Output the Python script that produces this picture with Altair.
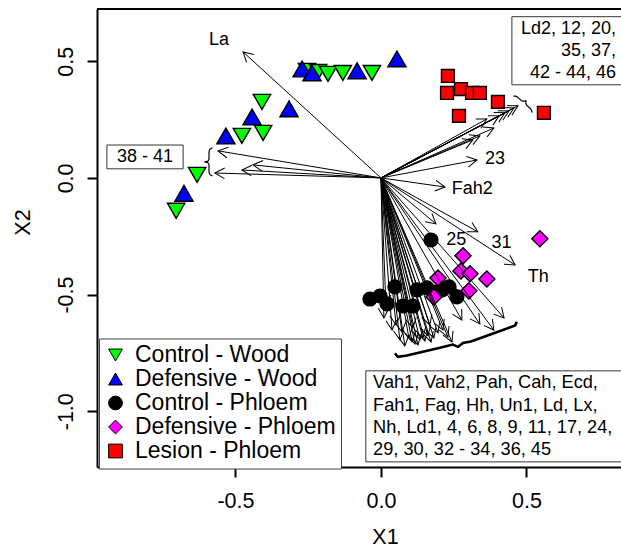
import math
import altair as alt
import pandas as pd

# ---------------- data ----------------
groups = ["Control - Wood", "Defensive - Wood", "Control - Phloem",
          "Defensive - Phloem", "Lesion - Phloem"]
shapes = ["triangle-down", "triangle-up", "circle", "diamond", "square"]
colors = ["#00FF00", "#0000FF", "#000000", "#FF00FF", "#FF0000"]
sizes = [300, 330, 190, 260, 165]

cw_x = [-0.254, -0.216, -0.182, -0.131, -0.031, -0.409, -0.405, -0.478, -0.632, -0.704]
cw_y = [0.459, 0.454, 0.446, 0.450, 0.450, 0.326, 0.193, 0.180, 0.013, -0.141]
dw_x = [-0.271, -0.237, -0.082, 0.055, -0.316, -0.443, -0.533, -0.677]
dw_y = [0.467, 0.450, 0.459, 0.510, 0.296, 0.261, 0.180, -0.066]
cp_x = [0.172, -0.038, -0.003, 0.021, 0.048, 0.076, 0.110, 0.124, 0.158, 0.189, 0.210, 0.234, 0.261]
cp_y = [-0.266, -0.519, -0.506, -0.540, -0.467, -0.549, -0.549, -0.480, -0.471, -0.489, -0.480, -0.467, -0.510]
dp_x = [0.546, 0.282, 0.275, 0.306, 0.364, 0.196, 0.302, 0.182]
dp_y = [-0.261, -0.334, -0.399, -0.411, -0.433, -0.429, -0.484, -0.510]
lp_x = [0.230, 0.227, 0.275, 0.313, 0.340, 0.402, 0.268, 0.560]
lp_y = [0.437, 0.364, 0.381, 0.364, 0.364, 0.326, 0.266, 0.279]

# loading vectors (arrows)
arrow_names = ["La", "23", "Fah2", "25", "31", "Th",
               "Ld2", "12", "20", "35", "37", "42", "43", "44", "46",
               "38", "39", "40", "41",
               "Vah1", "Vah2", "Pah", "Cah", "Ecd", "Fah1", "Fag", "Hh", "Un1",
               "Ld", "Lx", "Nh", "Ld1", "4", "6", "8", "9", "11", "17", "24",
               "29", "30", "32", "33", "34", "36", "45"]
arrow_x = [-0.474, 0.330, 0.220, 0.189, 0.333, 0.461,
           0.471, 0.457, 0.440, 0.426, 0.406, 0.364, 0.388, 0.340, 0.316,
           -0.560, -0.440, -0.478, -0.571,
           0.010, 0.038, 0.065, 0.082, 0.096, 0.107, 0.117, 0.127, 0.134,
           0.144, 0.151, 0.162, 0.172, 0.182, 0.196, 0.213, 0.230, 0.244, 0.052,
           0.072, 0.110, 0.168, 0.278, 0.340, 0.388, 0.423, 0.017]
arrow_y = [0.540, 0.077, -0.039, -0.197, -0.231, -0.373,
           0.309, 0.300, 0.287, 0.279, 0.266, 0.253, 0.214, 0.180, 0.163,
           0.116, 0.056, 0.034, 0.021,
           -0.600, -0.652, -0.694, -0.720, -0.686, -0.703, -0.712, -0.716, -0.694,
           -0.686, -0.699, -0.677, -0.703, -0.686, -0.664, -0.652, -0.682, -0.703, -0.630,
           -0.660, -0.643, -0.630, -0.609, -0.626, -0.652, -0.600, -0.544]

# single arrow labels
lab_text = ["La", "23", "Fah2", "25", "31", "Th"]
lab_x = [-0.557, 0.392, 0.314, 0.259, 0.414, 0.541]
lab_y = [0.592, 0.081, -0.047, -0.266, -0.279, -0.424]

# braces grouping arrows
brace_left_x = [-0.579, -0.588, -0.591, -0.591, -0.596, -0.607, -0.596, -0.591, -0.591, -0.588, -0.579]
brace_left_y = [0.129, 0.122, 0.111, 0.081, 0.071, 0.069, 0.066, 0.056, 0.026, 0.015, 0.009]
brace_tr_x = [0.455, 0.462, 0.471, 0.487, 0.498, 0.498, 0.512, 0.518, 0.519]
brace_tr_y = [0.351, 0.351, 0.345, 0.329, 0.330, 0.318, 0.299, 0.288, 0.280]
brace_bot_x = [0.048, 0.058, 0.089, 0.192, 0.247, 0.265, 0.282, 0.309, 0.419, 0.461, 0.467]
brace_bot_y = [-0.752, -0.767, -0.761, -0.731, -0.714, -0.724, -0.707, -0.701, -0.652, -0.632, -0.617]

# group label boxes
box_x1 = [-0.942, 0.450, -0.052]
box_x2 = [-0.680, 0.900, 0.900]
box_y1 = [0.141, 0.691, -0.827]
box_y2 = [0.039, 0.399, -1.217]

left_box_text = ["38 - 41"]
left_box_x = [-0.811]
left_box_y = [0.090]
tr_box_text = ["Ld2, 12, 20,", "35, 37,", "42 - 44, 46"]
tr_box_x = [0.808, 0.808, 0.808]
tr_box_y = [0.639, 0.544, 0.450]
bot_box_text = ["Vah1, Vah2, Pah, Cah, Ecd,", "Fah1, Fag, Hh, Un1, Ld, Lx,",
                "Nh, Ld1, 4, 6, 8, 9, 11, 17, 24,", "29, 30, 32 - 34, 36, 45"]
bot_box_x = [-0.027, -0.027, -0.027, -0.027]
bot_box_y = [-0.879, -0.977, -1.071, -1.166]

# ---------------- layout ----------------
W, H = 524, 458
XDOM = [-0.976, 0.825]
YDOM = [-1.239, 0.724]
FONT = "Liberation Sans"

xs = alt.Scale(domain=XDOM, nice=False, zero=False)
ys = alt.Scale(domain=YDOM, nice=False, zero=False)

lab_expr = "datum.value < 0 ? '-' + format(-datum.value, '.1f') : format(datum.value, '.1f')"
xaxis = alt.Axis(values=[-0.5, 0, 0.5], labelExpr=lab_expr, title="X1",
                 titleX=288, titleY=70, titleAlign="center", titleBaseline="middle",
                 grid=False, tickSize=10, tickWidth=2, tickColor="black",
                 domainColor="black", domainWidth=2, labelPadding=13,
                 labelFontSize=21.5, labelFont=FONT, labelColor="black",
                 titleFont=FONT, titleFontSize=21.5, titleFontWeight="normal",
                 titleColor="black")
yaxis = alt.Axis(values=[-1.0, -0.5, 0, 0.5], labelExpr=lab_expr, title="X2",
                 titleX=-74, titleY=213, titleAngle=270, titleAlign="center",
                 titleBaseline="middle",
                 grid=False, tickSize=10, tickWidth=2, tickColor="black",
                 domainColor="black", domainWidth=2, labelPadding=15,
                 labelAngle=270, labelAlign="center", labelBaseline="alphabetic",
                 labelFontSize=21.5, labelFont=FONT, labelColor="black",
                 titleFont=FONT, titleFontSize=21.5, titleFontWeight="normal",
                 titleColor="black")


def X(f):
    return alt.X(f, type="quantitative", scale=xs, axis=xaxis)


def Y(f):
    return alt.Y(f, type="quantitative", scale=ys, axis=yaxis)


# ---------------- tables ----------------
rows = []
for g, sz, xx, yy in zip(groups, sizes, [cw_x, dw_x, cp_x, dp_x, lp_x], [cw_y, dw_y, cp_y, dp_y, lp_y]):
    for a, b in zip(xx, yy):
        rows.append({"x": a, "y": b, "group": g, "sz": sz})
pts = pd.DataFrame(rows)

sx = W / (XDOM[1] - XDOM[0])
sy = H / (YDOM[1] - YDOM[0])
arr = pd.DataFrame({"name": arrow_names, "xe": arrow_x, "ye": arrow_y})
arr["x"] = 0.0
arr["y"] = 0.0
arr["ang"] = [(math.degrees(math.atan2(a * sx, b * sy)) + 360) % 360 for a, b in zip(arrow_x, arrow_y)]

labs = pd.DataFrame({"t": lab_text, "x": lab_x, "y": lab_y})

br_rows = []
for bid, (bx, by) in enumerate([(brace_left_x, brace_left_y), (brace_tr_x, brace_tr_y)]):
    for i, (a, b) in enumerate(zip(bx, by)):
        br_rows.append({"b": bid, "o": i, "x": a, "y": b})
braces_thin = pd.DataFrame(br_rows)
brace_bot = pd.DataFrame({"o": list(range(len(brace_bot_x))), "x": brace_bot_x, "y": brace_bot_y})

boxes = pd.DataFrame({"x": box_x1, "x2": box_x2, "y": box_y1, "y2": box_y2})
t_left = pd.DataFrame({"t": left_box_text, "x": left_box_x, "y": left_box_y})
t_tr = pd.DataFrame({"t": tr_box_text, "x": tr_box_x, "y": tr_box_y})
t_bot = pd.DataFrame({"t": bot_box_text, "x": bot_box_x, "y": bot_box_y})

legend = alt.Legend(title=None, orient="none", legendX=2, legendY=329.5,
                    labelFont=FONT, labelFontSize=23, labelColor="black", labelLimit=400,
                    symbolSize=190, symbolStrokeColor="black", symbolStrokeWidth=1,
                    strokeColor="#444444", fillColor="white", padding=5,
                    rowPadding=0, labelOffset=8)

# ---------------- layers ----------------
points = alt.Chart(pts).mark_point(filled=True, stroke="black", strokeWidth=1.4, opacity=1).encode(
    x=X("x"), y=Y("y"),
    shape=alt.Shape("group:N", scale=alt.Scale(domain=groups, range=shapes), legend=legend, sort=groups),
    color=alt.Color("group:N", scale=alt.Scale(domain=groups, range=colors), legend=legend, sort=groups),
    size=alt.Size("sz:Q", scale=None, legend=None),
)

lines = alt.Chart(arr).mark_rule(color="black", strokeWidth=1).encode(
    x=X("x"), y=Y("y"), x2="xe", y2="ye")

heads = alt.Chart(arr).mark_point(shape="M-0.55,1L0,0L0.55,1", filled=False, size=380,
                                  stroke="black", strokeWidth=1, opacity=1).encode(
    x=X("xe"), y=Y("ye"), angle=alt.Angle("ang:Q", scale=None))

labels = alt.Chart(labs).mark_text(font=FONT, fontSize=18, color="black",
                                   align="center", baseline="middle").encode(
    x=X("x"), y=Y("y"), text="t")

thin_br = alt.Chart(braces_thin).mark_line(color="black", strokeWidth=1.2, interpolate="monotone").encode(
    x=X("x"), y=Y("y"), order="o:Q", detail="b:N")
bot_br = alt.Chart(brace_bot).mark_line(color="black", strokeWidth=2.6).encode(
    x=X("x"), y=Y("y"), order="o:Q")

rects = alt.Chart(boxes).mark_rect(fill="white", stroke="#333333", strokeWidth=1, clip=True).encode(
    x=X("x"), x2="x2", y=Y("y"), y2="y2")

txt_left = alt.Chart(t_left).mark_text(font=FONT, fontSize=18, color="black",
                                       align="center", baseline="middle").encode(
    x=X("x"), y=Y("y"), text="t")
txt_tr = alt.Chart(t_tr).mark_text(font=FONT, fontSize=18, color="black",
                                   align="right", baseline="middle").encode(
    x=X("x"), y=Y("y"), text="t")
txt_bot = alt.Chart(t_bot).mark_text(font=FONT, fontSize=18.2, color="black",
                                     align="left", baseline="middle", clip=True).encode(
    x=X("x"), y=Y("y"), text="t")

top_line = alt.Chart(pd.DataFrame({"k": [0]})).mark_rule(color="black", strokeWidth=2).encode(
    y=alt.value(0), x=alt.value(0), x2=alt.value(W))

chart = alt.layer(points, lines, heads, labels, thin_br, bot_br, rects,
                  txt_left, txt_tr, txt_bot, top_line).properties(
    width=W, height=H,
    padding={"left": 97, "top": 9, "right": 0, "bottom": 83},
    autosize=alt.AutoSizeParams(type="none"),
    background="white",
).configure_view(stroke=None)

chart.save("out.html", embed_options={"renderer": "svg", "actions": False})
